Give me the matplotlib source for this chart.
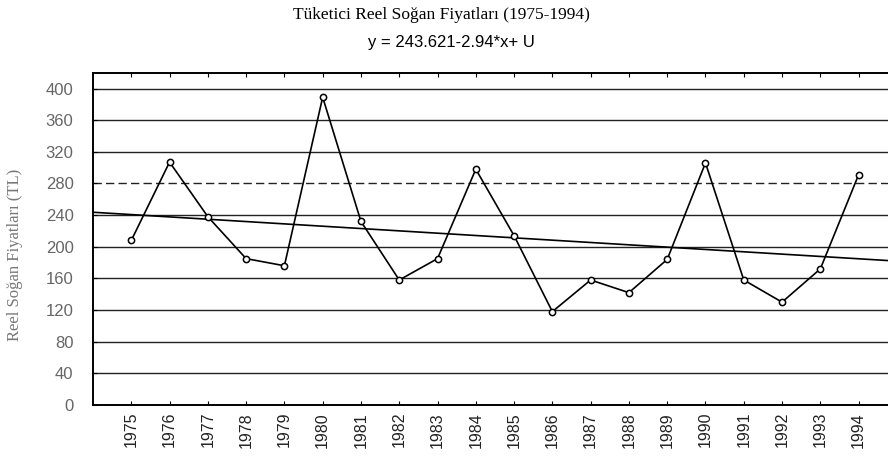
import numpy as np
import matplotlib.pyplot as plt

years = list(range(1975, 1995))
prices = [208, 307, 238, 185, 176, 389, 232, 158, 185, 298,
          214, 118, 158, 142, 184, 306, 158, 130, 172, 291]
yticks = [0, 40, 80, 120, 160, 200, 240, 280, 320, 360, 400]

# trend: y = 243.621 - 2.94*x, x = year - 1974
a, b = 243.621, -2.94

fig = plt.figure(figsize=(8.88, 4.57), dpi=100)
ax = fig.add_axes([93 / 888, 1 - 405 / 457, 1 - 93 / 888 + 0.01, (405 - 72.7) / 457])

for v in yticks[1:]:
    ls = (0, (6, 3)) if v == 280 else '-'
    ax.axhline(v, color='#222222', lw=1.0, ls=ls, zorder=1)

tx = np.array([1974, 1996])
ax.plot(tx, a + b * (tx - 1974), color='black', lw=1.2, zorder=2)
ax.plot(years, prices, color='black', lw=1.2, marker='o', ms=4.5,
        mfc='white', mec='black', mew=1.1, zorder=3)

ax.set_xlim(1974, 1995)
ax.set_ylim(0, 420)
ax.set_yticks(yticks)
ax.set_xticks(years)
ax.set_xticklabels([str(y) for y in years], rotation=90, fontsize=11.5,
                   family='Liberation Sans', color='#222222')
ax.set_yticklabels([str(v) for v in yticks], fontsize=12,
                   family='Liberation Sans', color='#666666')
ax.tick_params(axis='x', direction='in', length=3, top=True, pad=5)
ax.tick_params(axis='y', direction='in', length=3, pad=14)
for s in ax.spines.values():
    s.set_linewidth(1.4)

fig.text(15 / 888, 1 - 255 / 457, 'Reel Soğan Fiyatları (TL)', rotation=90,
         ha='center', va='center', family='Liberation Serif', fontsize=12,
         color='#777777')

fig.text(441 / 888, 1 - 15 / 457, 'Tüketici Reel Soğan Fiyatları (1975-1994)',
         ha='center', va='center', family='Liberation Serif', fontsize=12.5)
fig.text(451 / 888, 1 - 42 / 457, 'y = 243.621-2.94*x+ U',
         ha='center', va='center', family='Liberation Sans', fontsize=12)

fig.savefig('out.png', dpi=100)
